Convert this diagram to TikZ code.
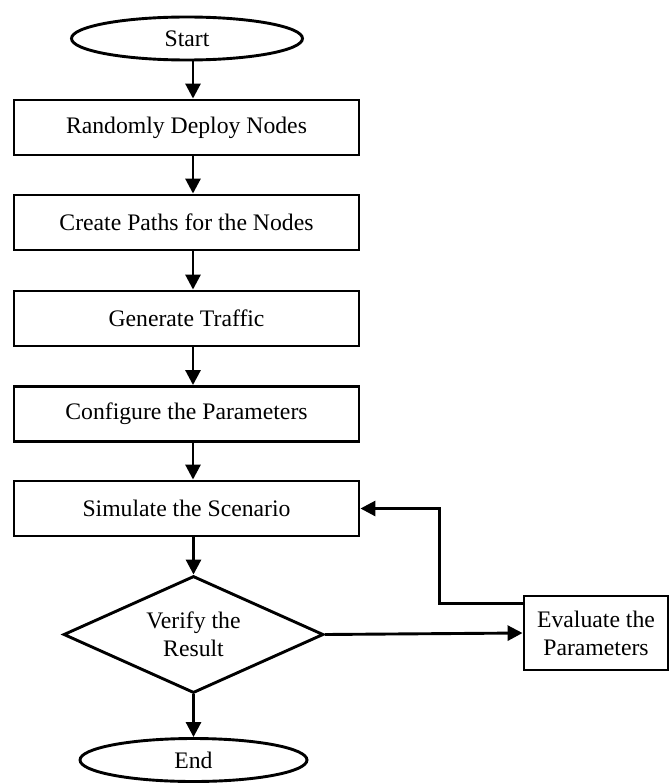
\documentclass[tikz,border=0pt]{standalone}
\usepackage{fontspec}
\setmainfont{Liberation Serif}
\usetikzlibrary{shapes.geometric,arrows.meta}
\begin{document}
\begin{tikzpicture}[x=1pt,y=-1pt,
  every node/.style={font=\fontsize{23.7}{28}\selectfont},
  base/.style={draw=black, line width=2.9pt, inner sep=0pt},
  procbox/.style={base, rectangle, minimum width=345pt, minimum height=55pt},
  terminal/.style={base, ellipse, minimum height=43pt},
  decision/.style={base, diamond, aspect=2.2, minimum width=260pt, minimum height=117pt, align=center},
  sidebox/.style={base, rectangle, minimum width=144pt, minimum height=74pt, align=center},
  arr/.style={line width=2.9pt, -{Triangle[length=15pt,width=15pt]}},
]
\useasboundingbox (0,0) rectangle (670,784);
\coordinate (col) at (193,0);
\node[terminal, minimum width=231pt] (start) at (187,38.5) {Start};
\node[procbox] (b1) at (186.5,127.5) {Randomly Deploy Nodes};
\node[procbox] (b2) at (186.5,222.5) {Create Paths for the Nodes};
\node[procbox] (b3) at (186.5,318.5) {Generate Traffic};
\node[procbox] (b4) at (186.5,414) {Configure the Parameters};
\node[procbox] (b5) at (186.5,508.5) {Simulate the Scenario};
\node[decision] (dia) at (193.5,634.5) {Verify the\\Result};
\node[sidebox] (eval) at (596,633) {Evaluate the\\Parameters};
\node[terminal, minimum width=227pt] (end) at (193.5,760) {End};

\draw[arr] (start.south -| col) -- (b1.north -| col);
\draw[arr] (b1.south -| col) -- (b2.north -| col);
\draw[arr] (b2.south -| col) -- (b3.north -| col);
\draw[arr] (b3.south -| col) -- (b4.north -| col);
\draw[arr] (b4.south -| col) -- (b5.north -| col);
\draw[arr] (b5.south -| dia.north) -- (dia.north);
\draw[arr] (dia.south) -- (end.north);
\draw[arr] (dia.east) -- (eval.west);
\draw[arr] ([yshift=-9pt]eval.north west) -- ++(-83,0) |- (b5.east);
\end{tikzpicture}
\end{document}
